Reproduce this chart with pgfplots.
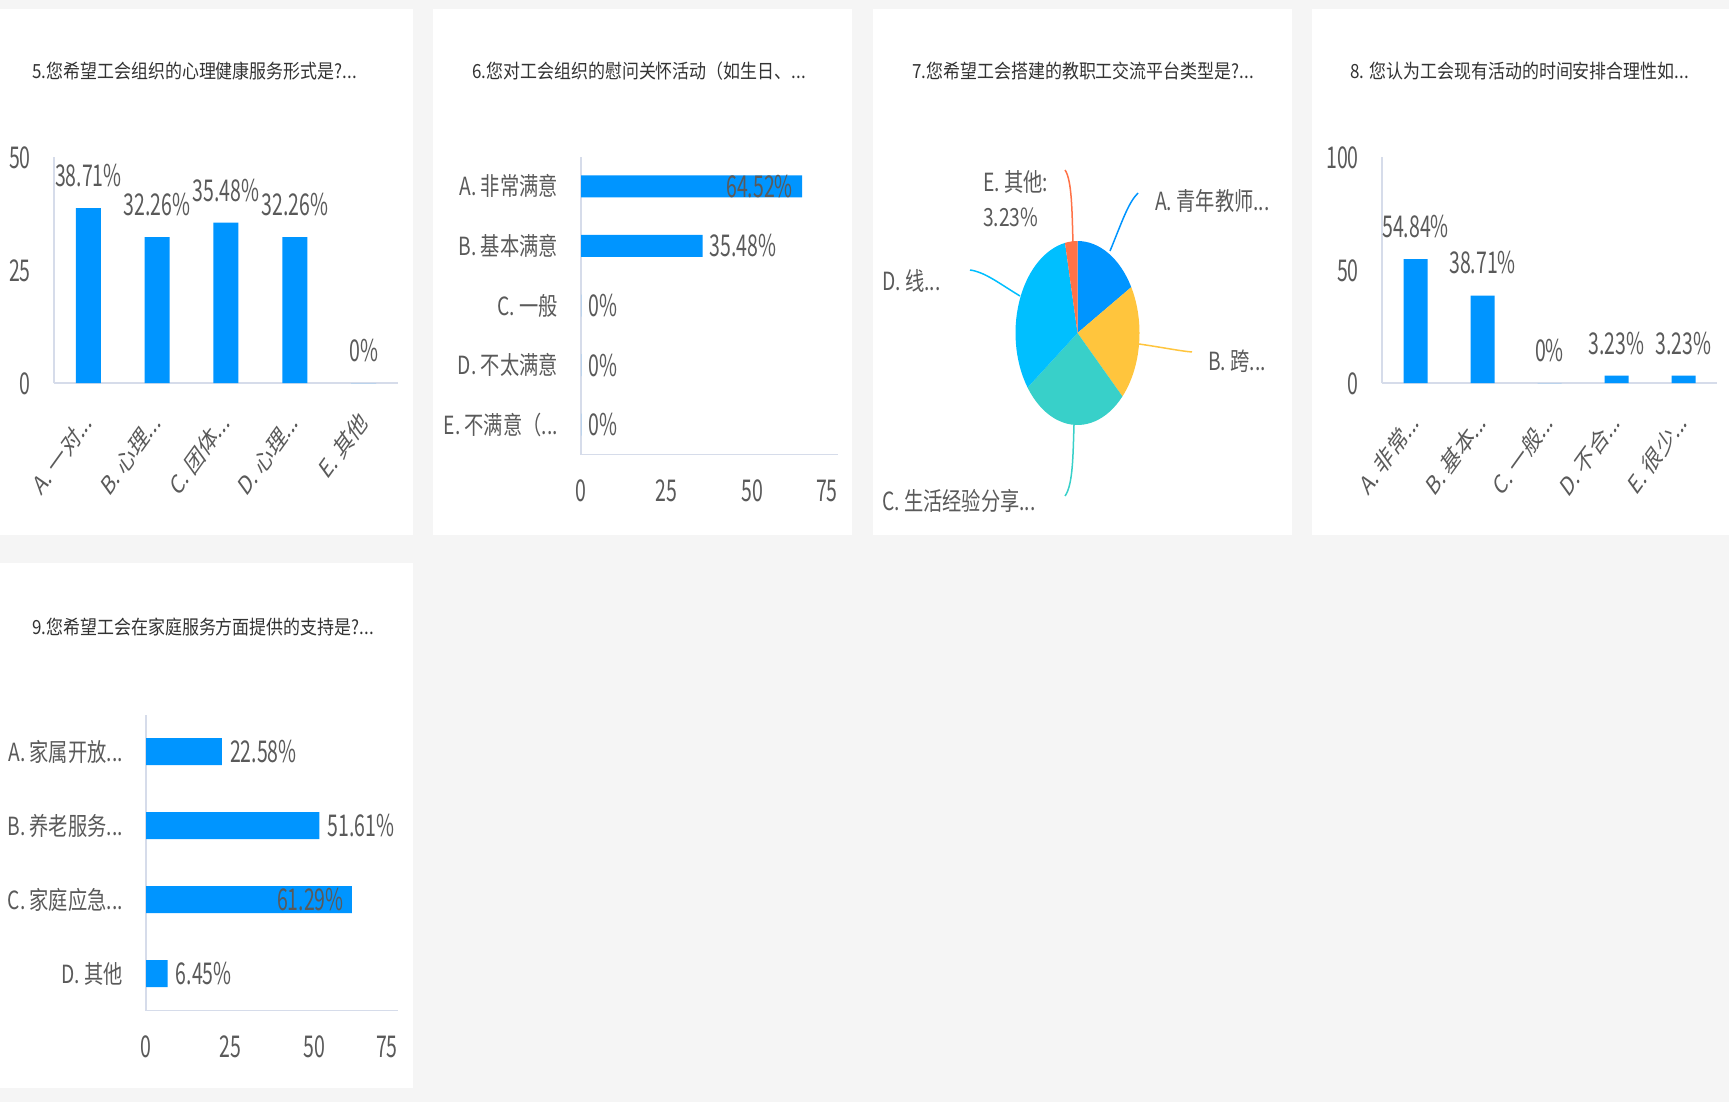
\documentclass[border=0pt]{standalone}
\usepackage{pgfplots}
\pgfplotsset{compat=1.18}
\usepackage{fontspec}
\setmainfont{Noto Sans CJK SC}
\newfontfamily\titfont[FakeStretch=0.87]{Noto Sans CJK SC}
\newfontfamily\labfont[FakeStretch=0.77]{Noto Sans CJK SC}
\newfontfamily\numfont[FakeStretch=0.65]{Noto Sans CJK SC}
\newfontfamily\rotfont{Noto Sans CJK SC}
\definecolor{bg}{HTML}{F5F5F5}
\definecolor{barblue}{HTML}{0095FF}
\definecolor{axisline}{HTML}{D6DCEA}
\definecolor{txt}{HTML}{5A5A5A}
\definecolor{tit}{HTML}{333333}
\definecolor{pieA}{HTML}{0095FF}
\definecolor{pieB}{HTML}{FFC53D}
\definecolor{pieC}{HTML}{38D0C9}
\definecolor{pieD}{HTML}{00BFFF}
\definecolor{pieE}{HTML}{FF7247}
\newcommand\el{...}
\newcommand\tfont{\titfont\fontsize{19.5}{23}\selectfont}
\newcommand\lfont{\labfont\fontsize{25}{29}\selectfont}
\newcommand\rfont{\rotfont\fontsize{26}{30}\selectfont}
\newcommand\nfont{\numfont\fontsize{30}{34}\selectfont}
\pgfplotsset{
  /pgf/number format/assume math mode=true,
  dash/.style={
    scale only axis, enlargelimits=false, clip=false,
    axis x line*=bottom, axis y line*=left,
    axis line style={draw=axisline, line width=1.5pt, -},
    major tick length=0pt, tick style={draw=none},
    every tick label/.append style={text=txt},
  },
  vb/.style={dash,
    yticklabel style={font=\nfont, anchor=base east, inner sep=0pt, xshift=-23pt, yshift=-11pt},
    xticklabel style={font=\rfont, inner sep=0pt, xshift=0pt, yshift=-34pt, xscale=0.72, rotate=45, anchor=east},
  },
  hb/.style={dash,
    xticklabel style={font=\nfont, anchor=base, inner sep=0pt, yshift=-47pt},
    yticklabel style={font=\lfont, anchor=east, inner sep=0pt, xshift=-23pt},
  },
  pct/.style={nodes near coords={\pgfmathprintnumber[fixed,precision=2]{\pgfplotspointmeta}\%}},
}
\begin{document}
\begin{tikzpicture}[x=1pt,y=1pt]
\fill[bg] (0,0) rectangle (1729,-1102);
\fill[white] (0,-9) rectangle (413,-535);
\fill[white] (433,-9) rectangle (852,-535);
\fill[white] (873,-9) rectangle (1292,-535);
\fill[white] (1312,-9) rectangle (1729,-535);
\fill[white] (0,-563) rectangle (413,-1088);

% titles
\node[anchor=base west, inner sep=0pt, text=tit, font=\tfont] at (32,-78.5) {5.您希望工会组织的心理健康服务形式是?\el};
\node[anchor=base west, inner sep=0pt, text=tit, font=\tfont] at (472,-78.5) {6.您对工会组织的慰问关怀活动（如生日、\el};
\node[anchor=base west, inner sep=0pt, text=tit, font=\tfont] at (912,-78.5) {7.您希望工会搭建的教职工交流平台类型是?\el};
\node[anchor=base west, inner sep=0pt, text=tit, font=\tfont] at (1350,-78.5) {8. 您认为工会现有活动的时间安排合理性如\el};
\node[anchor=base west, inner sep=0pt, text=tit, font=\tfont] at (32,-634) {9.您希望工会在家庭服务方面提供的支持是?\el};

% question 5
\begin{axis}[vb, at={(54pt,-383pt)}, anchor=south west, width=344pt, height=226pt,
  xmin=-0.5, xmax=4.5, ymin=0, ymax=50, ytick={0,25,50},
  xtick={0,1,2,3,4}, xticklabels={{A. 一对\el},{B. 心理\el},{C. 团体\el},{D. 心理\el},{E. 其他}}]
\addplot[ybar, bar width=25pt, fill=barblue, draw=none, point meta=y, pct,
  every node near coord/.append style={font=\nfont, text=txt, anchor=south, inner sep=0pt, yshift=21pt}]
  coordinates {(0,38.71) (1,32.26) (2,35.48) (3,32.26) (4,0)};
\end{axis}

% question 6
\begin{axis}[hb, at={(581pt,-454.5pt)}, anchor=south west, width=257pt, height=298pt,
  xmin=0, xmax=75, xtick={0,25,50}, extra x ticks={75},
  extra x tick style={xticklabel style={anchor=base east}},
  ymin=-0.5, ymax=4.5, ytick={0,1,2,3,4},
  yticklabels={{E. 不满意（\el},{D. 不太满意},{C. 一般},{B. 基本满意},{A. 非常满意}}]
\addplot[xbar, bar width=22pt, fill=barblue, draw=none]
  coordinates {(64.52,4) (35.48,3) (0,2) (0,1) (0,0)};
\addplot[draw=none, mark=none, point meta=x, pct,
  every node near coord/.append style={font=\nfont, text=txt, anchor=west, inner sep=0pt, xshift=7pt}]
  coordinates {(35.48,3) (0,2) (0,1) (0,0)};
\addplot[draw=none, mark=none, point meta=x, pct,
  every node near coord/.append style={font=\nfont, text=txt, anchor=east, inner sep=0pt, xshift=-9pt}]
  coordinates {(64.52,4)};
\end{axis}

% question 7: pie
\begin{axis}[at={(1077.5pt,-333pt)}, anchor=center, scale only axis, width=124pt, height=184pt,
  xmin=-1, xmax=1, ymin=-1, ymax=1, hide axis, clip=false]
\fill[pieA] (axis cs:0,0) -- (axis cs:{cos(90)},{sin(90)})
  arc[start angle=90, end angle={90-3.6*16.7}, x radius=62pt, y radius=92pt] -- cycle;
\fill[pieB] (axis cs:0,0) -- (axis cs:{cos(90-3.6*16.7)},{sin(90-3.6*16.7)})
  arc[start angle={90-3.6*16.7}, end angle={90-3.6*37.1}, x radius=62pt, y radius=92pt] -- cycle;
\fill[pieC] (axis cs:0,0) -- (axis cs:{cos(90-3.6*37.1)},{sin(90-3.6*37.1)})
  arc[start angle={90-3.6*37.1}, end angle={90-3.6*64.9}, x radius=62pt, y radius=92pt] -- cycle;
\fill[pieD] (axis cs:0,0) -- (axis cs:{cos(90-3.6*64.9)},{sin(90-3.6*64.9)})
  arc[start angle={90-3.6*64.9}, end angle={90-3.6*96.77}, x radius=62pt, y radius=92pt] -- cycle;
\fill[pieE] (axis cs:0,0) -- (axis cs:{cos(90-3.6*96.77)},{sin(90-3.6*96.77)})
  arc[start angle={90-3.6*96.77}, end angle={90-3.6*100}, x radius=62pt, y radius=92pt] -- cycle;
\end{axis}
% leader lines and labels
\draw[pieA, line width=1.5pt] (1110,-251) .. controls (1122,-222) and (1128,-203) .. (1138,-193);
\draw[pieB, line width=1.5pt] (1139,-344) .. controls (1160,-347) and (1180,-351) .. (1192,-352);
\draw[pieC, line width=1.5pt] (1074,-425) .. controls (1073,-455) and (1073,-485) .. (1065,-496);
\draw[pieD, line width=1.5pt] (1020,-296) .. controls (1000,-284) and (985,-272) .. (970,-270);
\draw[pieE, line width=1.5pt] (1073,-243) .. controls (1072,-212) and (1072,-180) .. (1065,-170);
\node[anchor=west, inner sep=0pt, font=\lfont, text=txt] at (1155,-201) {A. 青年教师\el};
\node[anchor=west, inner sep=0pt, font=\lfont, text=txt] at (1208,-361) {B. 跨\el};
\node[anchor=west, inner sep=0pt, font=\lfont, text=txt] at (882,-501) {C. 生活经验分享\el};
\node[anchor=west, inner sep=0pt, font=\lfont, text=txt] at (882,-281) {D. 线\el};
\node[anchor=west, inner sep=0pt, font=\lfont, text=txt] at (983,-182) {E. 其他:};
\node[anchor=west, inner sep=0pt, font=\lfont, text=txt] at (983,-217) {3.23\%};

% question 8
\begin{axis}[vb, at={(1382pt,-383pt)}, anchor=south west, width=335pt, height=226pt,
  xmin=-0.5, xmax=4.5, ymin=0, ymax=100, ytick={0,50,100},
  xtick={0,1,2,3,4}, xticklabels={{A. 非常\el},{B. 基本\el},{C. 一般\el},{D. 不合\el},{E. 很少\el}}]
\addplot[ybar, bar width=24pt, fill=barblue, draw=none, point meta=y, pct,
  every node near coord/.append style={font=\nfont, text=txt, anchor=south, inner sep=0pt, yshift=21pt}]
  coordinates {(0,54.84) (1,38.71) (2,0) (3,3.23) (4,3.23)};
\end{axis}

% question 9
\begin{axis}[hb, at={(146pt,-1010.5pt)}, anchor=south west, width=252pt, height=296pt,
  xmin=0, xmax=75, xtick={0,25,50}, extra x ticks={75},
  extra x tick style={xticklabel style={anchor=base east}},
  ymin=-0.5, ymax=3.5, ytick={0,1,2,3},
  yticklabels={{D. 其他},{C. 家庭应急\el},{B. 养老服务\el},{A. 家属开放\el}}]
\addplot[xbar, bar width=27pt, fill=barblue, draw=none]
  coordinates {(22.58,3) (51.61,2) (61.29,1) (6.45,0)};
\addplot[draw=none, mark=none, point meta=x, pct,
  every node near coord/.append style={font=\nfont, text=txt, anchor=west, inner sep=0pt, xshift=8pt}]
  coordinates {(22.58,3) (51.61,2) (6.45,0)};
\addplot[draw=none, mark=none, point meta=x, pct,
  every node near coord/.append style={font=\nfont, text=txt, anchor=east, inner sep=0pt, xshift=-8pt}]
  coordinates {(61.29,1)};
\end{axis}
\pgfresetboundingbox
\useasboundingbox (0,0) rectangle (1729,-1102);
\end{tikzpicture}
\end{document}
